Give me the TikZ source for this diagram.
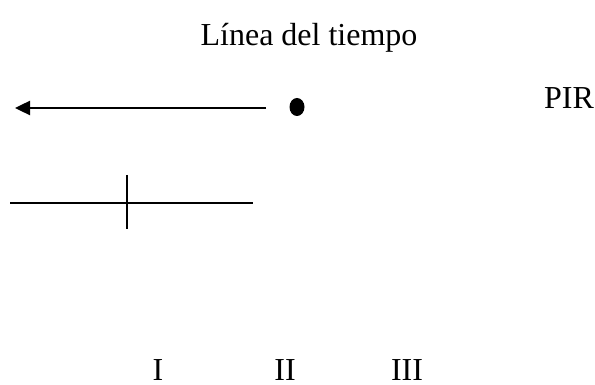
\documentclass[tikz,border=0pt]{standalone}
\usepackage{fontspec}
\setmainfont{Liberation Serif}
\usetikzlibrary{positioning, arrows.meta}

\begin{document}
\begin{tikzpicture}
    [
      x=0.5pt, y=-0.5pt,
      LINE/.style={line width = 1.2pt, black},
      LABEL/.style={inner sep = 0pt, anchor = base, font = \fontsize{16}{19}\selectfont},
    ]
    \useasboundingbox (0,0) rectangle (595,385);

    \node[LABEL] (title) at (309, 46) {Línea del tiempo};
    \node[LABEL] (pir) at (569, 109) {PIR};
    \node[LABEL] (one) at (158, 380) {I};
    \node[LABEL] (two) at (285, 380) {II};
    \node[LABEL] (three) at (407, 380) {III};

    \coordinate (arrowStart) at (266, 108);
    \coordinate (arrowEnd) at (15, 108);
    \fill (297, 107) ellipse [x radius = 7.5, y radius = 9];
    \draw[ -{Triangle[length = 7.5pt, width = 7pt]}, LINE] (arrowStart) -- (arrowEnd);

    \coordinate (lineLeft) at (10, 203);
    \coordinate (lineRight) at (253, 203);
    \coordinate (tickTop) at (127, 175);
    \coordinate (tickBottom) at (127, 229);
    \draw[LINE] (lineLeft) -- (lineRight);
    \draw[LINE] (tickTop) -- (tickBottom);

  \end{tikzpicture}
\end{document}
